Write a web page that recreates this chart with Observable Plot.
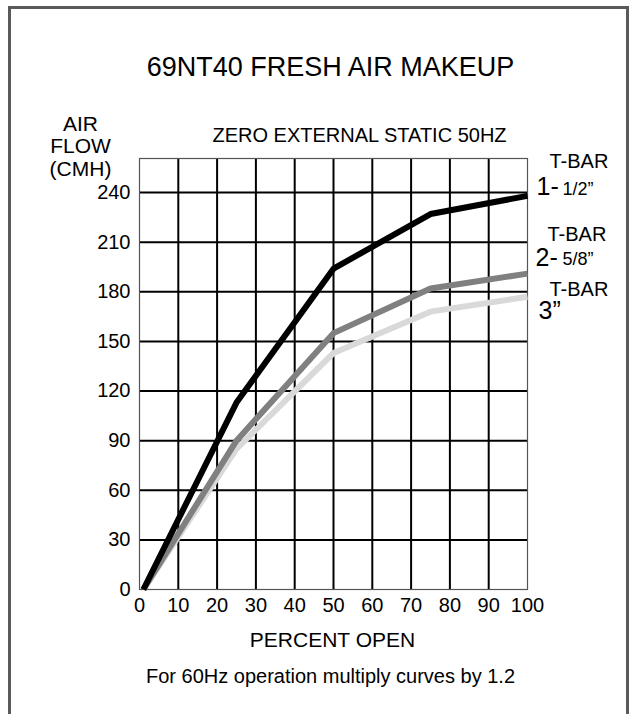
<!DOCTYPE html>
<html>
<head>
<meta charset="utf-8">
<script src="https://cdn.jsdelivr.net/npm/d3@7"></script>
<script src="https://cdn.jsdelivr.net/npm/@observablehq/plot@0.6"></script>
<style>
  html, body { margin: 0; padding: 0; background: #fff; overflow: hidden; }
  #wrap { position: relative; width: 634px; height: 714px; overflow: hidden; }
  #border { position: absolute; left: 8px; top: 6px; width: 615px; height: 760px;
            border-left: 3px solid #5a5a5a; border-top: 3px solid #5a5a5a; border-right: 3px solid #5a5a5a; }
  #chart { position: absolute; left: 0; top: 0; }
</style>
</head>
<body>
<div id="wrap"><div id="border"></div><div id="chart"></div></div>
<script>
// ---- data ----
const pctOpen = [1, 25, 50, 75, 100];          // PERCENT OPEN
const flowTbar1 = [0, 113, 194, 227, 238];     // T-BAR 1-1/2"
const flowTbar2 = [0, 90, 155, 182, 191];      // T-BAR 2-5/8"
const flowTbar3 = [0, 85, 143, 168, 177];      // T-BAR 3"
const seriesNames = ["T-BAR 1-1/2\u201D", "T-BAR 2-5/8\u201D", "T-BAR 3\u201D"];
const seriesColors = ["#000000", "#808080", "#d9d9d9"];
const xTicks = [0, 10, 20, 30, 40, 50, 60, 70, 80, 90, 100];
const yTicks = [0, 30, 60, 90, 120, 150, 180, 210, 240];

const titleText = "69NT40 FRESH AIR MAKEUP";
const subtitleText = "ZERO EXTERNAL STATIC 50HZ";
const yLabelText = "AIR\nFLOW\n(CMH)";
const xLabelText = "PERCENT OPEN";
const captionText = "For 60Hz operation multiply curves by 1.2";

const flows = [flowTbar1, flowTbar2, flowTbar3];
const rows = flows.flatMap((vals, i) => vals.map((v, j) => ({series: seriesNames[i], pct: pctOpen[j], flow: v})));

// ---- layout ----
const ML = 139, MT = 158, MR = 107, MB = 125;
const FONT = "'Liberation Sans', Arial, Helvetica, sans-serif";

const note = (text, x, y, size, anchor = "middle", extra = {}) =>
  Plot.text([text], {text: d => d, frameAnchor: "top-left", dx: x - ML, dy: y - MT,
    fontSize: size, textAnchor: anchor, lineAnchor: "middle", fill: "#000", ...extra});

const lineFor = (name) => Plot.line(rows.filter(r => r.series === name),
  {x: "pct", y: "flow", stroke: "series", strokeWidth: 6, strokeLinejoin: "miter", strokeLinecap: "butt"});

const chart = Plot.plot({
  width: 634, height: 714,
  marginLeft: ML, marginTop: MT, marginRight: MR, marginBottom: MB,
  style: {fontFamily: FONT, fontSize: "20px", color: "#000", background: "transparent", overflow: "visible"},
  x: {domain: [0, 100], ticks: xTicks, tickSize: 0, tickPadding: 8, label: null},
  y: {domain: [0, 260.6], ticks: yTicks, tickSize: 0, tickPadding: 9, label: null},
  color: {domain: seriesNames, range: seriesColors},
  marks: [
    Plot.ruleX(xTicks.slice(1, -1), {stroke: "#000", strokeWidth: 2}),
    Plot.ruleY(yTicks.slice(1), {x1: 0, x2: 100, stroke: "#000", strokeWidth: 2}),
    Plot.frame({stroke: "#555", strokeWidth: 1.2}),
    lineFor(seriesNames[2]),
    lineFor(seriesNames[1]),
    lineFor(seriesNames[0]),
    note(titleText, 330, 67, 27),
    note(subtitleText, 359, 135, 20),
    note(yLabelText, 80, 145.5, 21, "middle", {lineHeight: 1.07}),
    note(xLabelText, 332, 639.5, 21),
    note(captionText, 330, 676, 20),
    note("T-BAR", 549, 161.5, 20, "start"),
    note("1-", 536, 186.5, 25, "start"),
    note("1/2\u201D", 562, 188.5, 18, "start"),
    note("T-BAR", 547, 234, 20, "start"),
    note("2-", 535, 257, 25, "start"),
    note("5/8\u201D", 562, 259, 18, "start"),
    note("T-BAR", 549, 289, 20, "start"),
    note("3\u201D", 538, 310.5, 25, "start")
  ]
});
document.getElementById("chart").appendChild(chart);
</script>
</body>
</html>
